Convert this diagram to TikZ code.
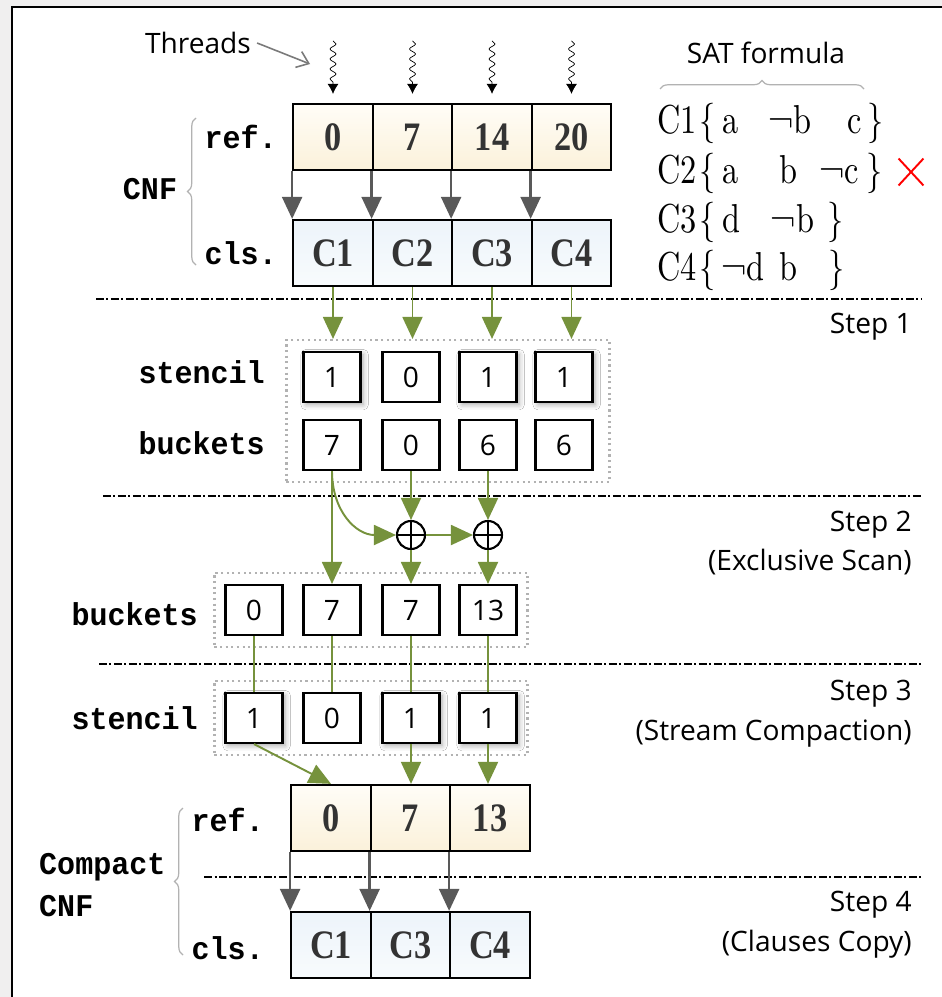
\documentclass[tikz,border=0pt]{standalone}
\usepackage{fontspec}
\usetikzlibrary{arrows.meta,decorations.pathmorphing,decorations.pathreplacing,shapes.misc,shadows.blur,fit}
\newfontfamily\sansfont{Open Sans}
\newfontfamily\boxfont{Liberation Serif}[FakeStretch=0.85]
\newfontfamily\codefont{Liberation Mono}[FakeStretch=0.95]
\newfontfamily\satfont{lmroman10-regular}[Extension=.otf,FakeStretch=0.8]
\newlength\pxunit
\setlength\pxunit{0.02cm}
\definecolor{bggray}{RGB}{240,239,239}
\definecolor{scangreen}{RGB}{118,146,60}
\definecolor{arrowgray}{RGB}{89,89,89}
\definecolor{reftop}{RGB}{255,253,247}
\definecolor{refbot}{RGB}{251,241,218}
\definecolor{clstop}{RGB}{237,244,250}
\definecolor{clsbot}{RGB}{248,251,253}
\begin{document}
\begin{tikzpicture}[x=0.02cm,y=-0.02cm,
    refbox/.style={draw,line width=1.3pt,minimum width=1.59cm,minimum height=1.32cm,inner sep=0pt,
        top color=reftop,bottom color=refbot,text=black!80,font=\boxfont\bfseries\fontsize{23}{26}\selectfont},
    clsbox/.style={refbox,top color=clstop,bottom color=clsbot},
    cell/.style={draw,line width=1.2pt,minimum width=1.14cm,minimum height=1cm,inner sep=0pt,fill=white,
        font=\sansfont\fontsize{16}{19}\selectfont},
    oncell/.style={cell,blur shadow={shadow xshift=1.5pt,shadow yshift=-1.5pt,shadow blur radius=3pt,shadow opacity=35}},
    dotframe/.style={draw=gray!60,dotted,line width=1.2pt,inner xsep=0.2cm,inner ysep=0.22cm},
    monotext/.style={font=\codefont\bfseries\fontsize{18}{24}\selectfont},
    sanstext/.style={font=\sansfont\fontsize{16}{22.7}\selectfont},
    steplabel/.style={sanstext,align=right,anchor=east,inner sep=0pt},
    sattext/.style={font=\satfont\fontsize{23}{26}\selectfont,anchor=base west,inner sep=0pt},
    grayarrow/.style={draw=arrowgray,line width=1.3pt,-{Triangle[length=0.44cm,width=0.4cm]}},
    greenarrow/.style={draw=scangreen,line width=1.1pt,-{Triangle[length=0.44cm,width=0.4cm]}},
    greenline/.style={draw=scangreen,line width=1pt},
    stepline/.style={line width=1.1pt,dash pattern=on 0.16cm off 0.05cm on 0.04cm off 0.05cm},
    thread/.style={decorate,decoration={snake,amplitude=0.06cm,segment length=0.2cm,post length=0.22cm},
        -{Latex[length=0.2cm,width=0.22cm]}},
    adder/.style={draw,circle,line width=1.2pt,minimum size=0.56cm,inner sep=0pt,fill=white,
        path picture={\draw[line width=1.2pt](path picture bounding box.north)--(path picture bounding box.south)
        (path picture bounding box.west)--(path picture bounding box.east);}},
    curly/.style={decorate,decoration={brace,amplitude=0.17cm},draw=gray!60,line width=0.7pt}]
    \useasboundingbox(0,0)rectangle(942,997);
    \fill[bggray](0,0)rectangle(942,997);
    \fill[white](12,7)rectangle(942,997);
    \draw[line width=1.7pt](12,997)--(12,7)--(942,7);

    \node[sanstext](thr)at(198,43){Threads};
    \coordinate(thrtip)at(310,64);
    \draw[arrowgray!80,line width=0.9pt,-{Straight Barb[length=0.22cm,width=0.34cm]}](thr.east)--(thrtip);
    \node[sanstext](sat)at(766,53){SAT formula};
    \draw[curly](660,89)--(864,89);

    \node[refbox](r1)at(333,137){0};
    \node[refbox](r2)at(412.5,137){7};
    \node[refbox](r3)at(492,137){14};
    \node[refbox](r4)at(571.5,137){20};
    \node[clsbox](c1)at(333,253){C1};
    \node[clsbox](c2)at(412.5,253){C2};
    \node[clsbox](c3)at(492,253){C3};
    \node[clsbox](c4)at(571.5,253){C4};
    \draw[thread]([yshift=1.24cm]r1.north)--([yshift=0.18cm]r1.north);
    \draw[thread]([yshift=1.24cm]r2.north)--([yshift=0.18cm]r2.north);
    \draw[thread]([yshift=1.24cm]r3.north)--([yshift=0.18cm]r3.north);
    \draw[thread]([yshift=1.24cm]r4.north)--([yshift=0.18cm]r4.north);
    \draw[grayarrow](r1.south west)--(c1.north west);
    \draw[grayarrow](r2.south west)--(c2.north west);
    \draw[grayarrow](r3.south west)--(c3.north west);
    \draw[grayarrow](r4.south west)--(c4.north west);
    \node[monotext,anchor=east](ref)at(283,137){ref.};
    \node[monotext,anchor=east](cls)at(283,253){cls.};
    \node[monotext](cnf)at(150,189){CNF};
    \draw[curly](196,265)--(196,118);

    \node[sattext](f1)at(657,133){C1\hspace{3\pxunit}\{\hspace{6\pxunit}a\hspace{30\pxunit}¬b\hspace{36\pxunit}c\hspace{6\pxunit}\}};
    \node[sattext](f2)at(657,183){C2\hspace{3\pxunit}\{\hspace{6\pxunit}a\hspace{41\pxunit}b\hspace{22\pxunit}¬c\hspace{8\pxunit}\}};
    \node[sattext](f3)at(657,232){C3\hspace{3\pxunit}\{\hspace{6\pxunit}d\hspace{31\pxunit}¬b\hspace{13\pxunit}\}};
    \node[sattext](f4)at(657,280){C4\hspace{3\pxunit}\{\hspace{5\pxunit}¬d\hspace{15\pxunit}b\hspace{31\pxunit}\}};
    \node[cross out,draw=red,line width=1.1pt,minimum width=0.46cm,minimum height=0.5cm,inner sep=0pt](nogo)at(911,172){};

    \draw[stepline](96,299)--(921,299);
    \node[steplabel](step1)at(912,327){Step 1};
    \node[oncell](s1)at(332,377){1};
    \node[cell](s2)at(411,377){0};
    \node[oncell](s3)at(488,377){1};
    \node[oncell](s4)at(564,377){1};
    \node[cell](b1)at(332,445){7};
    \node[cell](b2)at(411,445){0};
    \node[cell](b3)at(488,445){6};
    \node[cell](b4)at(564,445){6};
    \node[dotframe,inner xsep=0.32cm,fit=(s1)(b4)](grp1){};
    \node[monotext,anchor=east](stn1)at(271,372){stencil};
    \node[monotext,anchor=east](bkt1)at(271,443){buckets};
    \draw[greenarrow](c1.south)--(c1.south|-grp1.north);
    \draw[greenarrow](c2.south)--(c2.south|-grp1.north);
    \draw[greenarrow](c3.south)--(c3.south|-grp1.north);
    \draw[greenarrow](c4.south)--(c4.south|-grp1.north);

    \draw[stepline](103,496)--(921,496);
    \node[steplabel](step2)at(912,543){Step 2\\(Exclusive Scan)};
    \node[adder](o1)at(411,535){};
    \node[adder](o2)at(488,535){};
    \node[cell](e1)at(254,610){0};
    \node[cell](e2)at(332,610){7};
    \node[cell](e3)at(411,610){7};
    \node[cell](e4)at(488,610){13};
    \node[dotframe,fit=(e1)(e4)](grp2){};
    \node[monotext,anchor=east](bkt2)at(204,614){buckets};
    \draw[greenarrow](b1.south)--(b1.south|-e2.north);
    \draw[greenarrow](b1.south)..controls+(0,40)and+(-40,0)..(o1.west);
    \draw[greenarrow](b2.south)--(o1.north);
    \draw[greenarrow](b3.south)--(o2.north);
    \draw[greenarrow](o1)--(o2);
    \draw[greenarrow](o1.south)--(e3.north);
    \draw[greenarrow](o2.south)--(e4.north);

    \draw[stepline](99,664)--(921,664);
    \node[steplabel](step3)at(912,714){Step 3\\(Stream Compaction)};
    \node[oncell](t1)at(254,718){1};
    \node[cell](t2)at(332,718){0};
    \node[oncell](t3)at(411,718){1};
    \node[oncell](t4)at(488,718){1};
    \node[dotframe,fit=(t1)(t4)](grp3){};
    \node[monotext,anchor=east](stn2)at(204,718){stencil};
    \draw[greenline](e1.south)--(t1.north);
    \draw[greenline](e2.south)--(t2.north);
    \draw[greenline](e3.south)--(t3.north);
    \draw[greenline](e4.south)--(t4.north);

    \node[refbox](p1)at(331,818){0};
    \node[refbox](p2)at(410.5,818){7};
    \node[refbox](p3)at(490,818){13};
    \draw[greenarrow](t1.south)--(p1.north);
    \draw[greenarrow](t3.south)--(t3.south|-p2.north);
    \draw[greenarrow](t4.south)--(t4.south|-p3.north);

    \draw[stepline](204,877)--(921,877);
    \node[steplabel](step4)at(912,925){Step 4\\(Clauses Copy)};
    \node[clsbox](q1)at(331,945){C1};
    \node[clsbox](q2)at(410.5,945){C3};
    \node[clsbox](q3)at(490,945){C4};
    \draw[grayarrow](p1.south west)--(q1.north west);
    \draw[grayarrow](p2.south west)--(q2.north west);
    \draw[grayarrow](p3.south west)--(q3.north west);
    \node[monotext,anchor=east](ref2)at(270,820){ref.};
    \node[monotext,anchor=east](cls2)at(270,948){cls.};
    \node[monotext,anchor=west,align=left](ccnf)at(33,885){Compact\\CNF};
    \draw[curly](183,955)--(183,808);
\end{tikzpicture}
\end{document}
